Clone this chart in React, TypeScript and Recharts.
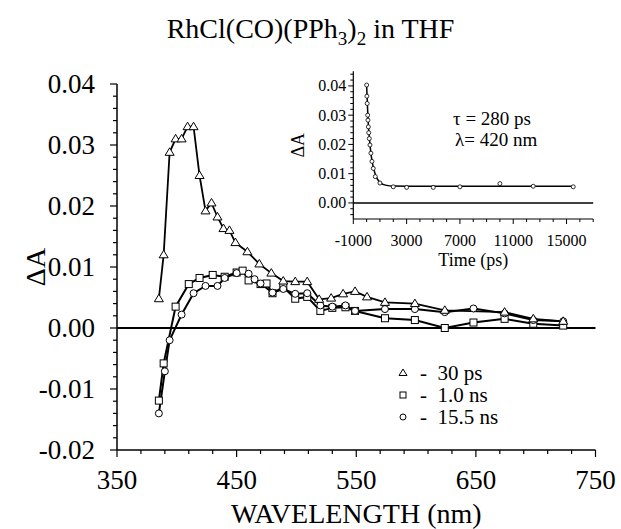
import { LineChart, Line, XAxis, YAxis, ReferenceLine, Label, Legend } from "recharts";

const SERIF = "'Liberation Serif', 'Times New Roman', serif";
const TXT = { fontFamily: SERIF };

// transient spectra, main panel
const NM_30PS = [385, 389, 394, 399, 404, 409, 414, 419, 424, 429, 434, 439, 444, 449, 459, 469, 479, 489, 499, 509, 519, 529, 539, 549, 559, 574, 599, 624, 674, 698, 723];
const DA_30PS = [0.0048, 0.012, 0.0288, 0.031, 0.031, 0.033, 0.033, 0.025, 0.0192, 0.0205, 0.0182, 0.0163, 0.016, 0.014, 0.0125, 0.0105, 0.009, 0.0077, 0.0076, 0.0076, 0.0047, 0.0049, 0.0056, 0.006, 0.0051, 0.0042, 0.004, 0.0029, 0.0026, 0.0015, 0.0011];

const NM_1NS = [385, 389, 399, 410, 419, 430, 440, 450, 455, 460, 470, 475, 480, 489, 499, 509, 520, 530, 541, 549, 574, 599, 624, 648, 674, 698, 723];
const DA_1NS = [-0.0119, -0.0058, 0.0035, 0.0072, 0.0082, 0.0087, 0.0084, 0.0091, 0.0094, 0.0078, 0.0072, 0.0073, 0.0057, 0.0067, 0.0048, 0.0051, 0.0028, 0.0033, 0.0034, 0.0028, 0.0016, 0.0013, 0.0, 0.0009, 0.0015, 0.0007, 0.0004];

const NM_15NS = [385, 390, 394, 404, 414, 424, 434, 440, 450, 460, 465, 470, 480, 489, 499, 509, 520, 530, 541, 549, 574, 599, 624, 648, 674, 698, 723];
const DA_15NS = [-0.014, -0.0071, -0.002, 0.0022, 0.0057, 0.0069, 0.0069, 0.0082, 0.009, 0.0089, 0.008, 0.0073, 0.0058, 0.0064, 0.0056, 0.0057, 0.0037, 0.0035, 0.0037, 0.0028, 0.0031, 0.0031, 0.0026, 0.0032, 0.0024, 0.0013, 0.0011];

const X_TICKS = [350, 370, 390, 410, 430, 450, 470, 490, 510, 530, 550, 570, 590, 610, 630, 650, 670, 690, 710, 730, 750];
const X_LABELS = ["350", "450", "550", "650", "750"];
const Y_TICKS = [-0.02, -0.018, -0.016, -0.014, -0.012, -0.01, -0.008, -0.006, -0.004, -0.002, 0, 0.002, 0.004, 0.006, 0.008, 0.01, 0.012, 0.014, 0.016, 0.018, 0.02, 0.022, 0.024, 0.026, 0.028, 0.03, 0.032, 0.034, 0.036, 0.038, 0.04];
const Y_LABELS = ["-0.02", "-0.01", "0.00", "0.01", "0.02", "0.03", "0.04"];

const LEGEND_ROWS = [
  { name: "30 ps", shape: "triangle" },
  { name: "1.0 ns", shape: "square" },
  { name: "15.5 ns", shape: "circle" },
];

// inset: decay at 420 nm
const T_PS = [0, 20, 40, 80, 100, 130, 160, 200, 250, 320, 400, 500, 650, 1000, 2000, 3000, 5000, 7000, 10000, 12500, 15500];
const DA_T = [0.0403, 0.0365, 0.034, 0.03, 0.0283, 0.026, 0.024, 0.022, 0.0198, 0.017, 0.0142, 0.0118, 0.009, 0.0068, 0.0055, 0.0053, 0.0053, 0.0055, 0.0066, 0.0057, 0.0055];
const FIT_T = [0, 100, 200, 300, 400, 600, 800, 1000, 1500, 2000, 4000, 15500];
const FIT_DA = [0.0403, 0.029, 0.0225, 0.0178, 0.0145, 0.0105, 0.0082, 0.007, 0.006, 0.0058, 0.0057, 0.0057];

const INSET_X_TICKS = [-1000, 0, 1000, 2000, 3000, 4000, 5000, 6000, 7000, 8000, 9000, 10000, 11000, 12000, 13000, 14000, 15000, 16000, 17000];
const INSET_X_LABELS = ["-1000", "3000", "7000", "11000", "15000"];
const INSET_Y_TICKS = [-0.004, -0.002, 0, 0.002, 0.004, 0.006, 0.008, 0.01, 0.012, 0.014, 0.016, 0.018, 0.02, 0.022, 0.024, 0.026, 0.028, 0.03, 0.032, 0.034, 0.036, 0.038, 0.04, 0.042, 0.044];
const INSET_Y_LABELS = ["0.00", "0.01", "0.02", "0.03", "0.04"];

const toPoints = (xs: number[], ys: number[]) => xs.map((x, i) => ({ x, y: ys[i] }));

function Marker({ shape, cx, cy, s = 4 }: { shape: string; cx: number; cy: number; s?: number }) {
  if (shape === "triangle") {
    return <path d={`M${cx},${cy - s - 0.5}L${cx - s - 0.5},${cy + s - 1}L${cx + s + 0.5},${cy + s - 1}Z`} fill="#fff" stroke="#000" strokeWidth={1} />;
  }
  if (shape === "square") {
    return <rect x={cx - s + 0.5} y={cy - s + 0.5} width={2 * s - 1} height={2 * s - 1} fill="#fff" stroke="#000" strokeWidth={1} />;
  }
  return <circle cx={cx} cy={cy} r={s - 0.5} fill="#fff" stroke="#000" strokeWidth={1} />;
}

const dotFor = (shape: string) => (p: any) => (
  <g key={`${shape}-${p.index}`}>
    <Marker shape={shape} cx={p.cx} cy={p.cy} />
  </g>
);

function MainXTick({ x, y, payload }: any) {
  const major = X_LABELS.includes(String(payload.value));
  return (
    <g>
      <line x1={x} y1={y} x2={x} y2={y + (major ? 7 : 4)} stroke="#000" strokeWidth={1.2} />
      {major && (
        <text x={x} y={y + 39} textAnchor="middle" fontSize={27} style={TXT} fill="#000">
          {payload.value}
        </text>
      )}
    </g>
  );
}

function MainYTick({ x, y, payload }: any) {
  const label = Number(payload.value).toFixed(2);
  const major = Y_LABELS.includes(label) && Math.abs(payload.value * 100 - Math.round(payload.value * 100)) < 1e-6;
  return (
    <g>
      <line x1={x} y1={y} x2={x - (major ? 7 : 4)} y2={y} stroke="#000" strokeWidth={1.2} />
      {major && (
        <text x={x - 22} y={y + 9} textAnchor="end" fontSize={27} style={TXT} fill="#000">
          {label}
        </text>
      )}
    </g>
  );
}

function InsetXTick({ x, y, payload }: any) {
  const major = INSET_X_LABELS.includes(String(payload.value));
  return (
    <g>
      <line x1={x} y1={y} x2={x} y2={y + (major ? 5 : 3)} stroke="#000" strokeWidth={1} />
      {major && (
        <text x={x} y={y + 27} textAnchor="middle" fontSize={16} style={TXT} fill="#000">
          {payload.value}
        </text>
      )}
    </g>
  );
}

function InsetYTick({ x, y, payload }: any) {
  const label = Number(payload.value).toFixed(2);
  const major = INSET_Y_LABELS.includes(label) && Math.abs(payload.value * 100 - Math.round(payload.value * 100)) < 1e-6;
  return (
    <g>
      <line x1={x} y1={y} x2={x - (major ? 5 : 3)} y2={y} stroke="#000" strokeWidth={1} />
      {major && (
        <text x={x - 7} y={y + 5.5} textAnchor="end" fontSize={16} style={TXT} fill="#000">
          {label}
        </text>
      )}
    </g>
  );
}

function LegendBox() {
  return (
    <div style={{ fontFamily: SERIF, fontSize: 21, lineHeight: "22px", color: "#000" }}>
      {LEGEND_ROWS.map((r) => (
        <div key={r.name} style={{ display: "flex", alignItems: "center", height: 22 }}>
          <svg width={14} height={14} style={{ marginRight: 10 }}>
            <Marker shape={r.shape} cx={7} cy={7} s={3.5} />
          </svg>
          <span style={{ whiteSpace: "pre" }}>{`-  ${r.name}`}</span>
        </div>
      ))}
    </div>
  );
}

export default function App() {
  return (
    <div style={{ position: "absolute", left: 0, top: 0, width: 621, height: 529, background: "#fff" }}>
      <div
        style={{
          position: "absolute",
          left: 0,
          top: 13,
          width: 621,
          textAlign: "center",
          fontFamily: SERIF,
          fontSize: 28,
          color: "#000",
        }}
      >
        RhCl(CO)(PPh<sub style={{ fontSize: 19 }}>3</sub>)<sub style={{ fontSize: 19 }}>2</sub> in THF
      </div>

      <div style={{ position: "absolute", left: 0, top: 0 }}>
        <LineChart width={621} height={529} margin={{ top: 84, right: 25.5, bottom: 9, left: 17 }}>
          <XAxis
            type="number"
            dataKey="x"
            domain={[350, 750]}
            ticks={X_TICKS}
            interval={0}
            tick={<MainXTick />}
            tickLine={false}
            tickSize={0}
            tickMargin={0}
            height={70}
            axisLine={{ stroke: "#000", strokeWidth: 1.5 }}
            allowDataOverflow
          >
            <Label
              content={(p: any) => (
                <text
                  x={p.viewBox.x + p.viewBox.width / 2}
                  y={p.viewBox.y + 73}
                  textAnchor="middle"
                  fontSize={28}
                  style={TXT}
                  fill="#000"
                >
                  WAVELENGTH (nm)
                </text>
              )}
            />
          </XAxis>
          <YAxis
            type="number"
            dataKey="y"
            domain={[-0.02, 0.04]}
            ticks={Y_TICKS}
            interval={0}
            tick={<MainYTick />}
            tickLine={false}
            tickSize={0}
            tickMargin={0}
            width={100}
            axisLine={{ stroke: "#000", strokeWidth: 1.5 }}
            allowDataOverflow
          >
            <Label
              content={(p: any) => {
                const cx = p.viewBox.x + p.viewBox.width - 82;
                const cy = p.viewBox.y + p.viewBox.height / 2;
                return (
                  <text
                    x={cx}
                    y={cy}
                    transform={`rotate(-90 ${cx} ${cy})`}
                    textAnchor="middle"
                    dominantBaseline="central"
                    fontSize={28}
                    style={TXT}
                    fill="#000"
                  >
                    ΔA
                  </text>
                );
              }}
            />
          </YAxis>
          <ReferenceLine y={0} stroke="#000" strokeWidth={2} />
          <Line data={toPoints(NM_1NS, DA_1NS)} dataKey="y" name="1.0 ns" stroke="#000" strokeWidth={2} dot={dotFor("square")} isAnimationActive={false} />
          <Line data={toPoints(NM_15NS, DA_15NS)} dataKey="y" name="15.5 ns" stroke="#000" strokeWidth={2} dot={dotFor("circle")} isAnimationActive={false} />
          <Line data={toPoints(NM_30PS, DA_30PS)} dataKey="y" name="30 ps" stroke="#000" strokeWidth={1.8} dot={dotFor("triangle")} isAnimationActive={false} />
          <Legend
            layout="vertical"
            align="center"
            verticalAlign="middle"
            content={() => <LegendBox />}
            wrapperStyle={{ left: 396, top: 362, width: "auto" }}
          />
        </LineChart>
      </div>

      <div style={{ position: "absolute", left: 0, top: 0 }}>
        <LineChart width={621} height={529} margin={{ top: 71.3, right: 27.8, bottom: 260, left: 293.3 }}>
          <XAxis
            type="number"
            dataKey="x"
            domain={[-1000, 17000]}
            ticks={INSET_X_TICKS}
            interval={0}
            tick={<InsetXTick />}
            tickLine={false}
            tickSize={0}
            tickMargin={0}
            height={50}
            axisLine={{ stroke: "#000", strokeWidth: 1.2 }}
            allowDataOverflow
          >
            <Label
              content={(p: any) => (
                <text
                  x={p.viewBox.x + p.viewBox.width / 2}
                  y={p.viewBox.y + 47}
                  textAnchor="middle"
                  fontSize={18}
                  style={TXT}
                  fill="#000"
                >
                  Time (ps)
                </text>
              )}
            />
          </XAxis>
          <YAxis
            type="number"
            dataKey="y"
            domain={[-0.0055, 0.045]}
            ticks={INSET_Y_TICKS}
            interval={0}
            tick={<InsetYTick />}
            tickLine={false}
            tickSize={0}
            tickMargin={0}
            width={60}
            axisLine={{ stroke: "#000", strokeWidth: 1.2 }}
            allowDataOverflow
          >
            <Label
              content={(p: any) => {
                const cx = p.viewBox.x + p.viewBox.width - 55;
                const cy = p.viewBox.y + 74;
                return (
                  <text
                    x={cx}
                    y={cy}
                    transform={`rotate(-90 ${cx} ${cy})`}
                    textAnchor="middle"
                    dominantBaseline="central"
                    fontSize={18}
                    style={TXT}
                    fill="#000"
                  >
                    ΔA
                  </text>
                );
              }}
            />
          </YAxis>
          <ReferenceLine y={0} stroke="#000" strokeWidth={1.5} />
          <ReferenceLine
            y={0.03}
            stroke="none"
            label={() => (
              <text x={453} y={125} fontSize={19} style={TXT} fill="#000">
                τ = 280 ps
              </text>
            )}
          />
          <ReferenceLine
            y={0.025}
            stroke="none"
            label={() => (
              <text x={455} y={146} fontSize={19} style={TXT} fill="#000">
                λ= 420 nm
              </text>
            )}
          />
          <Line data={toPoints(FIT_T, FIT_DA)} dataKey="y" type="monotone" stroke="#000" strokeWidth={1.5} dot={false} isAnimationActive={false} />
          <Line
            data={toPoints(T_PS, DA_T)}
            dataKey="y"
            stroke="none"
            dot={(p: any) => <circle key={`k-${p.index}`} cx={p.cx} cy={p.cy} r={2} fill="#fff" stroke="#000" strokeWidth={0.8} />}
            isAnimationActive={false}
          />
        </LineChart>
      </div>
    </div>
  );
}
